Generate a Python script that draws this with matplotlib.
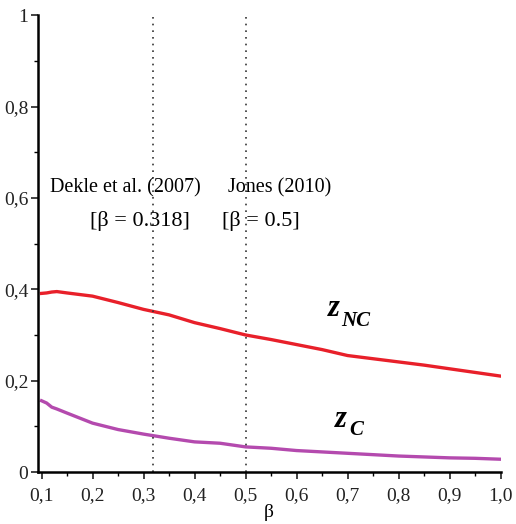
import matplotlib
matplotlib.use('Agg')
import matplotlib.pyplot as plt
from matplotlib.ticker import MultipleLocator, FuncFormatter

beta = [0.10, 0.11, 0.12, 0.13, 0.15, 0.20, 0.25, 0.30, 0.35, 0.40, 0.45, 0.50,
        0.55, 0.60, 0.65, 0.70, 0.75, 0.80, 0.85, 0.90, 0.95, 1.00]
z_nc = [0.391, 0.392, 0.394, 0.395, 0.392, 0.385, 0.371, 0.356, 0.344, 0.327, 0.314, 0.300,
        0.290, 0.279, 0.268, 0.255, 0.248, 0.241, 0.234, 0.226, 0.218, 0.210]
z_c = [0.156, 0.151, 0.142, 0.138, 0.129, 0.107, 0.093, 0.083, 0.074, 0.066, 0.063, 0.055,
       0.052, 0.047, 0.044, 0.041, 0.038, 0.035, 0.033, 0.031, 0.030, 0.028]

refs = [0.318, 0.5]
ref_names = ['Dekle et al. (2007)', 'Jones (2010)']
ref_values = ['[\u03b2 = 0.318]', '[\u03b2 = 0.5]']

plt.rcParams['font.family'] = ['Liberation Serif', 'DejaVu Serif']

fig = plt.figure(figsize=(5.16, 5.24), dpi=100)
ax = fig.add_axes([0.0736, 0.0992, 0.8964, 0.8718])

ax.plot(beta, z_nc, color='#e8202a', lw=2.4)
ax.plot(beta, z_c, color='#b44aae', lw=2.4)
for r in refs:
    ax.axvline(r, color='#333333', lw=1.2, linestyle=(0, (1, 3)))

ax.set_xlim(0.093, 1.0)
ax.set_ylim(0, 1)
ax.xaxis.set_major_locator(MultipleLocator(0.1))
ax.xaxis.set_minor_locator(MultipleLocator(0.05))
ax.yaxis.set_major_locator(MultipleLocator(0.2))
ax.yaxis.set_minor_locator(MultipleLocator(0.1))

def fmt_x(v, pos):
    return ('%.1f' % v).replace('.', ',')

def fmt_y(v, pos):
    if abs(v) < 1e-9:
        return '0'
    if abs(v - 1) < 1e-9:
        return '1'
    return ('%.1f' % v).replace('.', ',')

ax.xaxis.set_major_formatter(FuncFormatter(fmt_x))
ax.yaxis.set_major_formatter(FuncFormatter(fmt_y))

for s in ['top', 'right']:
    ax.spines[s].set_visible(False)
for s in ['left', 'bottom']:
    ax.spines[s].set_linewidth(1.8)
ax.tick_params(which='major', length=5, width=1.2, labelsize=14, colors='#222222')
ax.tick_params(axis='x', which='major', pad=6)
ax.tick_params(axis='y', which='major', pad=2)
ax.tick_params(which='minor', length=3, width=1.0)
ax.set_xlabel('\u03b2', fontsize=14, labelpad=0)

ax.text(0.117, 0.613, ref_names[0], fontsize=14.5, va='baseline')
ax.text(0.465, 0.613, ref_names[1], fontsize=14.5, va='baseline')
ax.text(0.195, 0.538, ref_values[0], fontsize=16, va='baseline')
ax.text(0.454, 0.538, ref_values[1], fontsize=16, va='baseline')

ax.text(0.661, 0.341, 'z', fontsize=22, fontweight='bold', fontstyle='italic', va='baseline')
ax.text(0.688, 0.319, 'NC', fontsize=15, fontweight='bold', fontstyle='italic', va='baseline')
ax.text(0.675, 0.098, 'z', fontsize=22, fontweight='bold', fontstyle='italic', va='baseline')
ax.text(0.703, 0.081, 'C', fontsize=15, fontweight='bold', fontstyle='italic', va='baseline')

fig.savefig('out.png', dpi=100)
